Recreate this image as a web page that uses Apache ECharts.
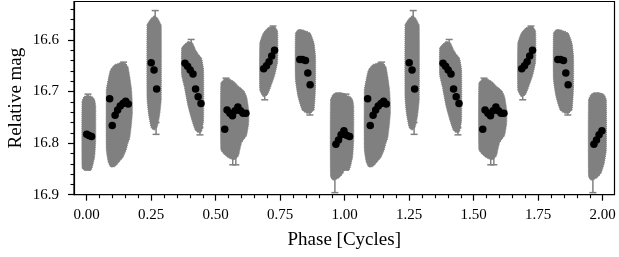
<!DOCTYPE html>
<html>
<head>
<meta charset="utf-8">
<script src="https://cdn.jsdelivr.net/npm/echarts@6/dist/echarts.min.js"></script>
<style>
html,body{margin:0;padding:0;background:#fff;}
#c{width:619px;height:257px;}
</style>
</head>
<body>
<div id="c"></div>
<script>
// ---- tick values ----
const xMajorTicks = [0, 0.25, 0.5, 0.75, 1.0, 1.25, 1.5, 1.75, 2.0];
const xMinorTicks = [0.05,0.10,0.15,0.20,0.30,0.35,0.40,0.45,0.55,0.60,0.65,0.70,0.80,0.85,0.90,0.95,
                     1.05,1.10,1.15,1.20,1.30,1.35,1.40,1.45,1.55,1.60,1.65,1.70,1.80,1.85,1.90,1.95];
const yMajorTicks = [16.6, 16.7, 16.8, 16.9];
const yMinorTicks = [16.54,16.56,16.58,16.62,16.64,16.66,16.68,16.72,16.74,16.76,16.78,16.82,16.84,16.86,16.88];

// ---- cycles shown (phase-folded data repeated) ----
const cycles = [0, 1];

// ---- error-bar envelopes of the individual measurements: [phase, upper mag, lower mag] ----
const envA = [[-0.018,16.720,16.848],[-0.011,16.710,16.852],[0.005,16.707,16.853],[0.018,16.709,16.852],[0.024,16.711,16.842],[0.031,16.716,16.826],[0.035,16.729,16.794]];
const envB = [[0.076,16.697,16.813],[0.083,16.677,16.836],[0.092,16.658,16.846],[0.108,16.648,16.846],[0.125,16.645,16.837],[0.140,16.643,16.828],[0.152,16.646,16.815],[0.160,16.652,16.800],[0.167,16.671,16.790],[0.174,16.697,16.761],[0.177,16.723,16.742]];
const envC = [[0.234,16.570,16.715],[0.240,16.565,16.745],[0.250,16.558,16.770],[0.262,16.553,16.775],[0.274,16.557,16.768],[0.283,16.565,16.745],[0.289,16.572,16.715]];
const envD = [[0.368,16.616,16.668],[0.378,16.609,16.690],[0.393,16.603,16.729],[0.409,16.605,16.758],[0.422,16.619,16.776],[0.435,16.629,16.780],[0.445,16.635,16.778],[0.453,16.658,16.755]];
const envE = [[0.520,16.684,16.813],[0.535,16.675,16.823],[0.555,16.676,16.830],[0.572,16.681,16.832],[0.587,16.689,16.826],[0.600,16.694,16.800],[0.610,16.699,16.792],[0.620,16.710,16.785],[0.628,16.736,16.761]];
const envF = [[0.671,16.606,16.697],[0.684,16.587,16.710],[0.701,16.577,16.706],[0.716,16.574,16.687],[0.729,16.574,16.668],[0.740,16.583,16.642]];
const envG = [[0.809,16.587,16.677],[0.819,16.580,16.710],[0.835,16.580,16.736],[0.852,16.583,16.742],[0.867,16.587,16.742],[0.881,16.606,16.736],[0.887,16.632,16.690]];
const envH = [[0.945,16.716,16.865],[0.955,16.705,16.872],[0.968,16.702,16.870],[0.981,16.702,16.866],[0.994,16.703,16.858],[1.006,16.706,16.839],[1.014,16.716,16.813]];

// ---- extreme individual error bars (with caps): [phase, upper mag, lower mag] ----
const extremeBars = [[0.005,16.705,16.72],[0.003,16.838,16.852],[0.143,16.643,16.66],[0.2655,16.543,16.57],[0.269,16.76,16.783],
                     [0.405,16.599,16.615],[0.439,16.77,16.784],[0.540,16.674,16.69],[0.566,16.82,16.842],[0.578,16.82,16.842],
                     [0.690,16.70,16.716],[0.722,16.573,16.59],[0.865,16.73,16.7455],[0.962,16.86,16.896]];

// ---- binned light curve (black points) ----
const binPhase = [0.000,0.009,0.019,
  0.089,0.099,0.110,0.120,0.130,0.141,0.151,0.161,
  0.250,0.261,0.271,
  0.381,0.391,0.401,0.412,0.422,0.432,0.443,
  0.535,0.544,0.555,0.565,0.575,0.586,0.596,0.606,0.617,
  0.686,0.697,0.707,0.717,0.728,
  0.826,0.836,0.848,0.857,0.866,
  0.966,0.976,0.986,0.997];
const binMag = [16.783,16.785,16.787,
  16.714,16.766,16.746,16.736,16.728,16.723,16.719,16.724,
  16.644,16.658,16.695,
  16.645,16.651,16.658,16.666,16.695,16.710,16.723,
  16.773,16.736,16.742,16.747,16.737,16.730,16.737,16.742,16.742,
  16.656,16.650,16.642,16.631,16.620,
  16.638,16.638,16.640,16.664,16.687,
  16.802,16.794,16.784,16.776];

const envelopes = [envA, envB, envC, envD, envE, envF, envG, envH];
const GRAY = '#808080';
const FONT = 'Liberation Serif';

const envData = [];
envelopes.forEach((e, i) => cycles.forEach(c => envData.push([i, c])));
const barData = [];
cycles.forEach(c => extremeBars.forEach(b => barData.push([b[0] + c, b[1], b[2]])));
const pointData = [];
cycles.forEach(c => binPhase.forEach((p, i) => pointData.push([p + c, binMag[i]])));

const XMIN = -0.0492, XMAX = 2.0457, YMIN = 16.5254, YMAX = 16.9;

const chart = echarts.init(document.getElementById('c'), null, {renderer: 'canvas'});
chart.setOption({
  animation: false,
  backgroundColor: '#fff',
  grid: {left: 74, right: 4.5, top: 1.5, bottom: 62.3, show: true, borderColor: '#000', borderWidth: 1.2,
         backgroundColor: 'transparent', outerBoundsMode: 'none', containLabel: false},
  xAxis: [{
    type: 'value', min: XMIN, max: XMAX, position: 'bottom',
    axisLine: {show: true, onZero: false, lineStyle: {color: '#000', width: 1.2}},
    axisTick: {show: true, inside: false, length: 6, customValues: xMajorTicks, lineStyle: {color: '#000', width: 1.2}},
    axisLabel: {show: true, customValues: xMajorTicks, margin: 12.5, color: '#000', fontFamily: FONT, fontSize: 15,
                formatter: v => v.toFixed(2)},
    splitLine: {show: false},
    name: 'Phase [Cycles]', nameLocation: 'middle', nameGap: 36, nameMoveOverlap: false,
    nameTextStyle: {color: '#000', fontFamily: FONT, fontSize: 19}
  }, {
    type: 'value', min: XMIN, max: XMAX, position: 'bottom',
    axisLine: {show: false, onZero: false},
    axisTick: {show: true, inside: false, length: 3.5, customValues: xMinorTicks, lineStyle: {color: '#000', width: 1.1}},
    axisLabel: {show: false}, splitLine: {show: false}
  }],
  yAxis: [{
    type: 'value', min: YMIN, max: YMAX, inverse: true, position: 'left',
    axisLine: {show: true, onZero: false, lineStyle: {color: '#000', width: 1.2}},
    axisTick: {show: true, inside: false, length: 6, customValues: yMajorTicks, lineStyle: {color: '#000', width: 1.2}},
    axisLabel: {show: true, customValues: yMajorTicks, margin: 15, color: '#000', fontFamily: FONT, fontSize: 15,
                formatter: v => v.toFixed(1)},
    splitLine: {show: false},
    name: 'Relative mag', nameLocation: 'middle', nameGap: 48, nameMoveOverlap: false,
    nameTextStyle: {color: '#000', fontFamily: FONT, fontSize: 19}
  }, {
    type: 'value', min: YMIN, max: YMAX, inverse: true, position: 'left',
    axisLine: {show: false, onZero: false},
    axisTick: {show: true, inside: false, length: 3.5, customValues: yMinorTicks, lineStyle: {color: '#000', width: 1.1}},
    axisLabel: {show: false}, splitLine: {show: false}
  }],
  series: [{
    type: 'custom', xAxisIndex: 0, yAxisIndex: 0, silent: true, z: 2,
    data: envData,
    renderItem: function (params, api) {
      const env = envelopes[api.value(0)];
      const c = api.value(1);
      const pts = [];
      for (let i = 0; i < env.length; i++) pts.push(api.coord([env[i][0] + c, env[i][1]]));
      for (let i = env.length - 1; i >= 0; i--) pts.push(api.coord([env[i][0] + c, env[i][2]]));
      return {type: 'polygon', shape: {points: pts, smooth: 0.15},
              style: {fill: GRAY, stroke: GRAY, lineWidth: 1, lineDash: [1, 1]}};
    }
  }, {
    type: 'custom', xAxisIndex: 0, yAxisIndex: 0, silent: true, z: 3,
    data: barData,
    renderItem: function (params, api) {
      const top = api.coord([api.value(0), api.value(1)]);
      const bot = api.coord([api.value(0), api.value(2)]);
      const hw = 3.5;
      const st = {stroke: GRAY, lineWidth: 1.5};
      return {type: 'group', children: [
        {type: 'line', shape: {x1: top[0], y1: top[1], x2: bot[0], y2: bot[1]}, style: st},
        {type: 'line', shape: {x1: top[0] - hw, y1: top[1], x2: top[0] + hw, y2: top[1]}, style: st},
        {type: 'line', shape: {x1: bot[0] - hw, y1: bot[1], x2: bot[0] + hw, y2: bot[1]}, style: st}
      ]};
    }
  }, {
    type: 'scatter', xAxisIndex: 0, yAxisIndex: 0, silent: true, z: 4,
    data: pointData, symbol: 'circle', symbolSize: 7.5,
    itemStyle: {color: '#000', opacity: 1, borderWidth: 0}
  }]
});
</script>
</body>
</html>
